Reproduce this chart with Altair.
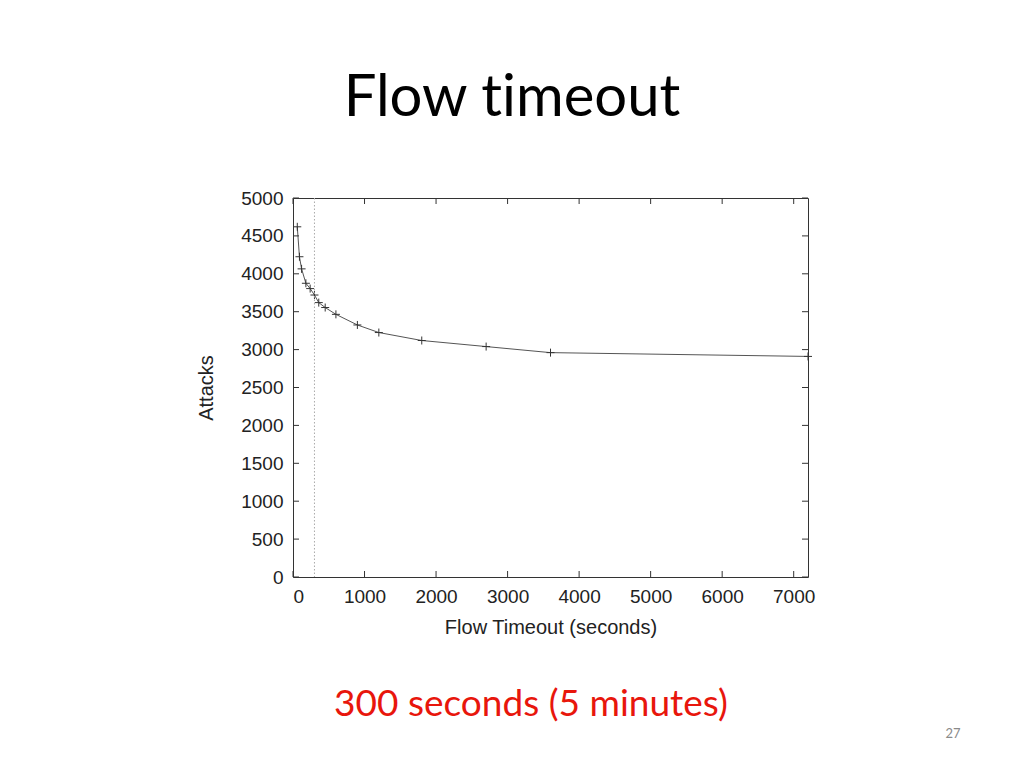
import altair as alt
import pandas as pd

# Data
timeout_s = [60, 90, 120, 180, 240, 300, 360, 450, 600, 900, 1200, 1800, 2700, 3600, 7200]
attacks = [4620, 4225, 4065, 3875, 3805, 3720, 3620, 3555, 3465, 3325, 3225, 3120, 3040, 2960, 2910]
x_ticks = [0, 1000, 2000, 3000, 4000, 5000, 6000, 7000]
y_ticks = [0, 500, 1000, 1500, 2000, 2500, 3000, 3500, 4000, 4500, 5000]
chosen_timeout = [300]
slide_title = ["Flow t\u200cimeout"]
slide_note = ["300 seconds (5 minutes)"]
page_no = ["27"]

W, H = 515, 379
AX_FONT = "Liberation Sans"

df = pd.DataFrame({"t": timeout_s, "a": attacks})
xt = pd.DataFrame({"t": x_ticks})
yt = pd.DataFrame({"a": y_ticks})
vline = pd.DataFrame({"t": chosen_timeout})

xscale = alt.Scale(domain=[0, 7200], nice=False, zero=False)
yscale = alt.Scale(domain=[0, 5000], nice=False)

xaxis = alt.Axis(values=x_ticks, ticks=False, domain=False, grid=False,
                 labelFont=AX_FONT, labelFontSize=19, labelColor="#222",
                 labelPadding=10, title="Flow Timeout (seconds)",
                 titleFont=AX_FONT, titleFontSize=20, titleFontWeight="normal",
                 titleColor="#222", titlePadding=11, format="d")
yaxis = alt.Axis(values=y_ticks, ticks=False, domain=False, grid=False,
                 labelFont=AX_FONT, labelFontSize=19, labelColor="#222",
                 labelPadding=10, title="Attacks",
                 titleFont=AX_FONT, titleFontSize=20, titleFontWeight="normal",
                 titleColor="#222", titlePadding=24, format="d")

X = alt.X("t:Q", scale=xscale, axis=xaxis)
Y = alt.Y("a:Q", scale=yscale, axis=yaxis)

line = alt.Chart(df).mark_line(color="#555", strokeWidth=1).encode(x=X, y=Y)
plus = alt.Chart(df).mark_point(
    shape="M-1,0L1,0M0,-1L0,1", size=64, filled=False, color="#333",
    strokeWidth=1, opacity=1
).encode(x=X, y=Y)
dotted = alt.Chart(vline).mark_rule(color="#aaa", strokeDash=[1.5, 2], strokeWidth=1).encode(x=X)

TL = 6
tick_style = dict(color="#333", strokeWidth=1)
bt = alt.Chart(xt).mark_rule(**tick_style).encode(x=X, y=alt.value(H), y2=alt.value(H - TL))
tt = alt.Chart(xt).mark_rule(**tick_style).encode(x=X, y=alt.value(0), y2=alt.value(TL))
lt = alt.Chart(yt).mark_rule(**tick_style).encode(y=Y, x=alt.value(0), x2=alt.value(TL))
rt = alt.Chart(yt).mark_rule(**tick_style).encode(y=Y, x=alt.value(W), x2=alt.value(W - TL))

title_t = alt.Chart(pd.DataFrame({"s": slide_title})).mark_text(
    font="Lato", fontSize=58, color="#000", align="center", baseline="alphabetic"
).encode(text="s:N", x=alt.value(512 - 293), y=alt.value(116 - 198))
note_t = alt.Chart(pd.DataFrame({"s": slide_note})).mark_text(
    font="Lato", fontSize=37, color="#E8160C", align="center", baseline="alphabetic"
).encode(text="s:N", x=alt.value(531 - 293), y=alt.value(716 - 198))
page_t = alt.Chart(pd.DataFrame({"s": page_no})).mark_text(
    font="Lato", fontSize=13, color="#8a8a8a", align="center", baseline="alphabetic"
).encode(text="s:N", x=alt.value(953 - 293), y=alt.value(738 - 198))

chart = alt.layer(
    line, plus, dotted, bt, tt, lt, rt, title_t, note_t, page_t
).properties(
    width=W, height=H,
    autosize=alt.AutoSizeParams(type="none"),
    padding={"left": 285, "top": 190, "right": 208, "bottom": 180},
    background="white",
).configure_view(stroke="#333", strokeWidth=1)

chart.save("out.html", embed_options={"renderer": "svg", "actions": False})
